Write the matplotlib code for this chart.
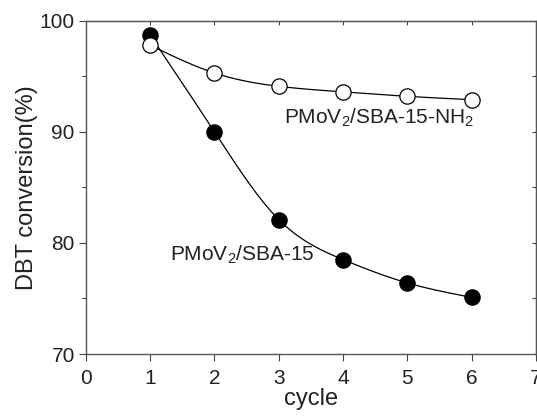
import numpy as np
import matplotlib
matplotlib.use('Agg')
import matplotlib.pyplot as plt

plt.rcParams['font.family'] = ['Liberation Sans', 'DejaVu Sans']
plt.rcParams['mathtext.fontset'] = 'custom'
plt.rcParams['mathtext.rm'] = 'Liberation Sans'

cycle = [1, 2, 3, 4, 5, 6]
conv_sba = [98.7, 90.0, 82.1, 78.5, 76.4, 75.1]
conv_nh2 = [97.8, 95.3, 94.1, 93.6, 93.2, 92.9]


def spline(x, y, n=200):
    # natural cubic spline, just for the smooth line through the points
    x = np.asarray(x, float)
    y = np.asarray(y, float)
    k = len(x)
    h = np.diff(x)
    A = np.zeros((k, k))
    b = np.zeros(k)
    A[0, 0] = A[-1, -1] = 1
    for i in range(1, k - 1):
        A[i, i - 1] = h[i - 1]
        A[i, i] = 2 * (h[i - 1] + h[i])
        A[i, i + 1] = h[i]
        b[i] = 6 * ((y[i + 1] - y[i]) / h[i] - (y[i] - y[i - 1]) / h[i - 1])
    M = np.linalg.solve(A, b)
    xs = np.linspace(x[0], x[-1], n)
    idx = np.clip(np.searchsorted(x, xs) - 1, 0, k - 2)
    x0, x1 = x[idx], x[idx + 1]
    hh = x1 - x0
    t0, t1 = x1 - xs, xs - x0
    ys = (M[idx] * t0**3 + M[idx + 1] * t1**3) / (6 * hh) \
        + (y[idx] / hh - M[idx] * hh / 6) * t0 \
        + (y[idx + 1] / hh - M[idx + 1] * hh / 6) * t1
    return xs, ys


fig = plt.figure(figsize=(5.37, 4.16), dpi=100)
ax = fig.add_axes([0.160, 0.149, 0.838, 0.801])

for yv, face in [(conv_sba, 'black'), (conv_nh2, 'white')]:
    xs, ys = spline(cycle, yv)
    ax.plot(xs, ys, color='black', lw=0.9, zorder=2)
    ax.plot(cycle, yv, 'o', ms=11, mfc=face, mec='black', mew=0.9, zorder=3,
            clip_on=False)

ax.set_xlim(0, 7)
ax.set_ylim(70, 100)
ax.set_xticks(range(8))
ax.set_yticks([70, 80, 90, 100])
ax.set_yticks([75, 85, 95], minor=True)
ax.tick_params(axis='both', labelsize=15, width=0.8, color='#444444',
               labelcolor='#222222')
ax.tick_params(axis='both', which='major', direction='out', length=5, pad=3)
ax.tick_params(axis='x', which='major', pad=6)
ax.tick_params(axis='y', which='minor', direction='out', length=3)
for s in ax.spines.values():
    s.set_color('#555555')
    s.set_linewidth(1.0)

# inward ticks on top and right
top = ax.secondary_xaxis('top')
top.set_xticks(range(1, 7))
top.tick_params(direction='in', length=3, labeltop=False, color='#444444')
right = ax.secondary_yaxis('right')
right.set_yticks([75, 80, 85, 90, 95])
right.tick_params(direction='in', length=3, labelright=False, color='#444444')

ax.set_xlabel('cycle', fontsize=17, labelpad=0, color='#222222')
ax.set_ylabel('DBT conversion(%)', fontsize=17, labelpad=1, color='#222222')

ax.text(1.31, 78.9, r'PMoV$_2$/SBA-15', fontsize=15, va='center',
        color='#222222')
ax.text(3.08, 91.3, r'PMoV$_2$/SBA-15-NH$_2$', fontsize=15, va='center',
        color='#222222')

fig.savefig('out.png', dpi=100)
